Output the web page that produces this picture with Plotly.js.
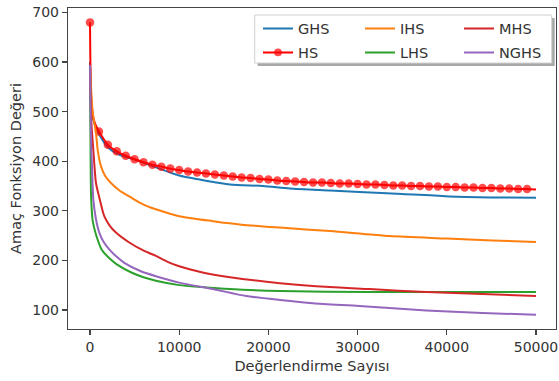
<!DOCTYPE html>
<html>
<head>
<meta charset="utf-8">
<script src="https://cdn.plot.ly/plotly-3.0.1.min.js"></script>
<style>html,body{margin:0;padding:0;background:#fff;}#chart{width:559px;height:381px;}</style>
</head>
<body>
<div id="chart"></div>
<script>
// ---- data ----
const ghsX = [0,100,200,400,700,1000,2000,3300,5100,7000,10000,12300,15700,19400,22400,26900,30200,35000,40300,45000,50000];
const ghsY = [600,530,505,482,466,455,428,413,403,390,371,363,353,350,345,341,338,334,329,327,326];

const hsX = [0,100,200,400,700,1000,2000,3000,4000,5000,6000,7000,8000,9000,10000,
  11000,12000,13000,14000,15000,16000,17000,18000,19000,20000,
  21000,22000,23000,24000,25000,26000,27000,28000,29000,30000,
  31000,32000,33000,34000,35000,36000,37000,38000,39000,40000,
  41000,42000,43000,44000,45000,46000,47000,48000,49000,50000];
const hsY = [680,540,510,485,470,460,433,420,411,404,398,393,389,385,382,
  379,377,375,373,371,369,367,366,364,363,
  361,360,359,358,357,357,356,355,355,354,
  353,353,352,351,351,350,350,349,349,348,
  348,347,347,346,346,345,345,344,344,343];
const hsMarkerStep = 1000;
const hsLastMarker = 49000;

const ihsX = [0,300,670,860,1230,1700,2350,3300,4400,5400,6460,7390,10000,13800,17000,21300,26900,33600,40000,45100,50000];
const ihsY = [590,500,457,423,390,370,356,341,329,318,309,303,289,279,272,266,259,249,244,240,237];

const lhsX = [0,50,120,300,670,1300,2300,3000,4700,6000,7400,10000,12500,15700,21300,31350,40000,50000];
const lhsY = [590,460,330,280,252,222,202,192,175,166,159,150,146,142,138,136,136,136];

const mhsX = [0,150,370,670,1000,1600,2200,2910,4400,6080,7390,8700,10000,12500,15700,21300,26900,31350,37700,44000,50000];
const mhsY = [590,480,423,356,330,289,270,256,236,219,209,197,188,176,166,154,146,142,136,132,128];

const nghsX = [0,100,220,370,650,1040,1500,2160,3000,3840,5710,7390,10000,13800,17500,21300,25000,30200,37700,44000,50000];
const nghsY = [594,450,390,323,285,256,238,222,207,195,178,168,155,142,128,120,113.5,108,99,94,90];

const xTicks = [0,10000,20000,30000,40000,50000];
const yTicks = [100,200,300,400,500,600,700];

const names = ['GHS','HS','IHS','LHS','MHS','NGHS'];
const colors = ['#1f77b4','#ff0000','#ff7f0e','#2ca02c','#d62728','#9467bd'];

// ---- layout helpers ----
const W = 559, H = 381;
const M = {l:68, r:3, t:8, b:52};
const pw = W - M.l - M.r, ph = H - M.t - M.b;
const px2x = p => (p - M.l) / pw;
const py2y = p => (H - M.b - p) / ph;

const FONT = 'DejaVu Sans, Verdana, sans-serif';
const TXT = '#333333';

function lineTrace(i, x, y, legend) {
  return {
    type:'scatter', mode:'lines', name:names[i], x:x, y:y,
    line:{color:colors[i], width:2, shape:'spline', smoothing:0.7}, legend:legend, legendgroup:names[i],
    hoverinfo:'skip'
  };
}

const hsSizes = hsX.map(v => (v % hsMarkerStep === 0 && v <= hsLastMarker) ? 8.5 : 0);

const data = [
  lineTrace(0, ghsX, ghsY, 'legend'),
  {type:'scatter', mode:'lines+markers', name:'HS', x:hsX, y:hsY,
   line:{color:colors[1], width:2, shape:'spline', smoothing:0.7},
   marker:{color:colors[1], size:hsSizes, line:{width:0}},
   legend:'legend', legendgroup:'HS', hoverinfo:'skip'},
  lineTrace(2, ihsX, ihsY, 'legend2'),
  lineTrace(3, lhsX, lhsY, 'legend2'),
  lineTrace(4, mhsX, mhsY, 'legend3'),
  lineTrace(5, nghsX, nghsY, 'legend3')
];

function legendAt(leftPx, topPx) {
  return {
    x: px2x(leftPx), y: py2y(topPx), xanchor:'left', yanchor:'top',
    orientation:'v', bgcolor:'rgba(0,0,0,0)', borderwidth:0,
    font:{family:FONT, size:14.5, color:TXT}, tracegroupgap:2
  };
}

const box = {l:254.7, r:551.7, t:15, b:63};
const layout = {
  width:W, height:H, margin:M,
  paper_bgcolor:'#ffffff', plot_bgcolor:'#ffffff',
  font:{family:FONT, size:14, color:TXT},
  showlegend:true,
  xaxis:{
    range:[-2466, 52242], tickvals:xTicks, ticktext:xTicks.map(String),
    showgrid:false, zeroline:false, showline:true, mirror:true,
    linecolor:'#444', linewidth:1.2, ticks:'outside', ticklen:5, tickwidth:1.2, tickcolor:'#444',
    tickfont:{family:FONT, size:14, color:TXT},
    title:{text:'Değerlendirme Sayısı', font:{family:FONT, size:14.5, color:TXT}, standoff:6}
  },
  yaxis:{
    range:[61.5, 709], tickvals:yTicks, ticktext:yTicks.map(String),
    showgrid:false, zeroline:false, showline:true, mirror:true,
    linecolor:'#444', linewidth:1.2, ticks:'outside', ticklen:5, tickwidth:1.2, tickcolor:'#444',
    tickfont:{family:FONT, size:14, color:TXT},
    title:{text:'Amaç Fonksiyon Değeri', font:{family:FONT, size:14.5, color:TXT}, standoff:7}
  },
  legend: legendAt(258, 12.6),
  legend2: legendAt(360, 12.6),
  legend3: legendAt(459, 12.6),
  shapes:[
    {type:'rect', xref:'paper', yref:'paper', layer:'above',
     x0:px2x(box.l+3), x1:px2x(box.r+3), y0:py2y(box.b+3), y1:py2y(box.t+3),
     fillcolor:'#a8a8a8', line:{width:0}},
    {type:'rect', xref:'paper', yref:'paper', layer:'above',
     x0:px2x(box.l), x1:px2x(box.r), y0:py2y(box.b), y1:py2y(box.t),
     fillcolor:'#ffffff', line:{color:'#d0d0d0', width:1}}
  ]
};

Plotly.newPlot('chart', data, layout, {staticPlot:true, displayModeBar:false});
</script>
</body>
</html>
